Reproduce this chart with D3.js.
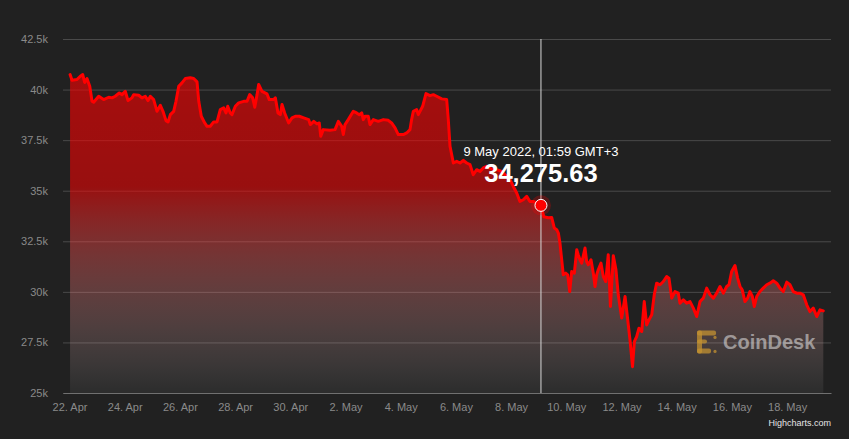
<!DOCTYPE html>
<html><head><meta charset="utf-8">
<script src="https://cdn.jsdelivr.net/npm/d3@7"></script>
<style>
html,body{margin:0;padding:0;background:#212121;}
svg{display:block;font-family:"Liberation Sans",Arial,Helvetica,sans-serif;}
</style></head><body>
<svg id="chart" width="849" height="439"></svg>
<script>
// ---------- DATA ----------
const startDate = "2022-04-22T00:00:00Z"; // chart local time (GMT+3) treated as UTC
const hoursFromStart = [0.5, 2.2, 6.5, 9.4, 11.5, 13.2, 15.2, 17.6, 19.6, 21.0, 25.4, 29.7, 34.1, 37.0, 39.8, 43.3, 45.7, 48.5, 50.9, 54.3,
  55.8, 60.2, 63.0, 65.9, 68.3, 70.3, 73.2, 76.1, 79.0, 81.3, 83.9, 85.7, 87.7, 90.6, 92.6, 95.0, 97.8, 100.7, 105.0, 108.0,
  110.9, 112.4, 114.6, 117.6, 119.6, 122.4, 125.4, 128.3, 131.1, 134.1, 136.1, 137.6, 139.8, 141.3, 144.2, 147.1, 151.5, 154.4, 156.7, 159.3,
  161.1, 163.1, 164.5, 167.4, 171.7, 173.7, 177.6, 179.0, 181.3, 183.3, 184.8, 187.1, 190.6, 193.5, 196.4, 199.8, 203.7, 208.0, 209.4, 212.4,
  215.2, 217.2, 218.5, 220.7, 226.5, 230.9, 233.8, 236.7, 238.1, 239.6, 242.4, 246.8, 249.7, 252.0, 254.1, 255.5, 257.0, 259.8, 261.3, 264.2,
  268.5, 272.9, 277.2, 280.1, 283.1, 285.9, 290.3, 293.2, 296.1, 297.5, 299.0, 301.9, 303.3, 307.1, 310.0, 313.5, 316.4, 319.3, 323.7, 328.0,
  329.4, 330.9, 333.8, 336.7, 339.6, 342.5, 345.4, 348.3, 351.1, 354.1, 357.0, 359.8, 362.8, 367.1, 371.5, 375.8, 380.2, 383.1, 385.9, 388.9,
  391.7, 394.6, 397.6, 400.4, 403.3, 406.8, 410.0, 412.5, 416.3, 419.3, 421.6, 423.7, 425.1, 426.5, 429.4, 431.5, 433.2, 435.0, 436.7, 439.0,
  441.1, 442.4, 443.9, 445.4, 448.3, 449.7, 451.1, 453.5, 455.5, 457.0, 458.4, 459.8, 462.2, 464.2, 466.3, 468.5, 470.4, 472.9, 475.2, 477.2,
  480.2, 481.6, 483.1, 485.1, 487.4, 489.6, 491.2, 493.2, 495.2, 497.6, 499.8, 501.9, 503.9, 506.3, 508.5, 510.6, 513.5, 516.4, 519.3, 521.3,
  523.7, 526.5, 529.4, 530.9, 533.8, 536.7, 539.6, 542.5, 545.4, 548.3, 551.2, 554.1, 557.0, 559.9, 562.8, 565.7, 568.6, 571.5, 573.5, 575.8,
  578.7, 581.0, 583.1, 585.0, 587.4, 589.7, 591.7, 593.8, 595.5, 597.6, 600.4, 603.3, 606.3, 609.1, 612.0, 615.0, 617.8, 620.7, 623.7, 626.5,
  629.4, 632.4, 635.2, 638.1, 641.1, 643.9, 646.8, 649.8, 652.6, 655.5];
const prices = [40740, 40460, 40500, 40660, 40740, 40350, 40545, 40165, 39420, 39370, 39670, 39505, 39620, 39590, 39670, 39835, 39750, 39915, 39455, 39590,
  39750, 39720, 39590, 39670, 39455, 39670, 39505, 38925, 39220, 38925, 38465, 38400, 38760, 38925, 39420, 40165, 40330, 40545, 40580, 40545,
  40380, 39420, 38680, 38350, 38185, 38185, 38400, 38400, 39010, 39095, 38845, 39175, 38845, 38760, 39175, 39340, 39420, 39420, 39750, 39590,
  39125, 39750, 40250, 39915, 39790, 39505, 39505, 39590, 38845, 38760, 39260, 38845, 38350, 38600, 38680, 38680, 38600, 38515, 38270, 38430,
  38300, 38350, 37690, 38020, 37985, 38020, 38430, 38185, 37775, 38270, 38515, 38925, 38845, 38760, 38845, 38515, 38680, 38680, 38270, 38515,
  38430, 38515, 38480, 38350, 38105, 37775, 37775, 37855, 38020, 38515, 38925, 39010, 38760, 39175, 39800, 39700, 39750, 39670, 39540, 39505,
  38515, 37195, 36370, 36450, 36370, 36500, 36370, 36290, 35790, 36040, 35955, 36125, 36205, 36075, 36040, 35955, 35710, 35545, 35210, 34885,
  34470, 34555, 34720, 34470, 34470, 34390, 34275.63, 33710, 33660, 33680, 33155, 33070, 32905, 32410, 30840, 30925, 30840, 30015, 31005, 30925,
  32080, 31835, 31585, 31420, 32165, 31500, 31340, 31585, 30925, 30265, 30840, 31090, 31420, 30760, 30510, 31835, 29275, 31785, 31090, 29855,
  28710, 29210, 29770, 28780, 27625, 26300, 27540, 27790, 28205, 28040, 29520, 28365, 28615, 28865, 29855, 30430, 30350, 30510, 30760, 30680,
  29690, 30015, 29935, 29440, 29605, 29440, 29520, 29195, 28780, 29520, 29690, 30185, 29855, 29690, 29935, 30265, 29935, 30265, 30350, 31005,
  31300, 30680, 30265, 30100, 29520, 29690, 30015, 29770, 29275, 29770, 30015, 30185, 30350, 30430, 30545, 30430, 30185, 30015, 30480, 30350,
  30015, 29935, 29935, 29855, 29360, 29025, 29195, 28780, 29110, 29060];

const yTickValues = [25000, 27500, 30000, 32500, 35000, 37500, 40000, 42500];
const yTickLabels = ["25k", "27.5k", "30k", "32.5k", "35k", "37.5k", "40k", "42.5k"];
const xTickDates = ["2022-04-22", "2022-04-24", "2022-04-26", "2022-04-28", "2022-04-30", "2022-05-02", "2022-05-04",
  "2022-05-06", "2022-05-08", "2022-05-10", "2022-05-12", "2022-05-14", "2022-05-16", "2022-05-18"];
const xTickLabels = ["22. Apr", "24. Apr", "26. Apr", "28. Apr", "30. Apr", "2. May", "4. May",
  "6. May", "8. May", "10. May", "12. May", "14. May", "16. May", "18. May"];
const xDomainHours = [-5.65, 662.2];
const tooltipTime = "2022-05-09T01:59:00Z";
const tooltipPrice = 34275.63;
const tooltipLabel = "9 May 2022, 01:59 GMT+3";
const watermarkText = "CoinDesk";
const creditText = "Highcharts.com";

// ---------- CHART ----------
const W = 849, H = 439;
const plot = {left: 63, right: 831, top: 39, bottom: 393};
const HOUR = 3600000;
const t0 = new Date(startDate).getTime();
const data = hoursFromStart.map((h, i) => ({date: new Date(t0 + h * HOUR), value: prices[i]}));

const svg = d3.select("#chart");
svg.append("rect").attr("width", W).attr("height", H).attr("fill", "#212121");

const x = d3.scaleUtc()
  .domain(xDomainHours.map(h => new Date(t0 + h * HOUR)))
  .range([plot.left, plot.right]);
const y = d3.scaleLinear()
  .domain([yTickValues[0], yTickValues[yTickValues.length - 1]])
  .range([plot.bottom, plot.top]);

const defs = svg.append("defs");
const grad = defs.append("linearGradient").attr("id", "areaGrad")
  .attr("x1", 0).attr("y1", 0).attr("x2", 0).attr("y2", 1);
grad.append("stop").attr("offset", "0%").attr("stop-color", "rgb(255,0,0)").attr("stop-opacity", 0.6);
grad.append("stop").attr("offset", "35%").attr("stop-color", "rgb(255,0,0)").attr("stop-opacity", 0.54);
grad.append("stop").attr("offset", "100%").attr("stop-color", "rgb(255,255,255)").attr("stop-opacity", 0.05);

// grid lines
const yAxis = d3.axisLeft(y).tickValues(yTickValues)
  .tickFormat((d, i) => yTickLabels[i])
  .tickSize(-(plot.right - plot.left)).tickPadding(15);
const gy = svg.append("g").attr("transform", `translate(${plot.left},0)`).call(yAxis);
gy.select(".domain").remove();
gy.selectAll(".tick line").attr("stroke", "#4a4a4a").attr("stroke-width", 1);
gy.selectAll(".tick text").attr("fill", "#8a8a8a").attr("font-size", "11px")
  .attr("font-family", '"Liberation Sans", Arial, sans-serif');

// area + line
const area = d3.area().x(d => x(d.date)).y0(y(yTickValues[0])).y1(d => y(d.value));
const line = d3.line().x(d => x(d.date)).y(d => y(d.value));
svg.append("path").datum(data).attr("d", area).attr("fill", "url(#areaGrad)");
svg.append("path").datum(data).attr("d", line).attr("fill", "none")
  .attr("stroke", "#ff0000").attr("stroke-width", 3).attr("stroke-linejoin", "round").attr("stroke-linecap", "round");

// x axis
const xAxis = d3.axisBottom(x).tickValues(xTickDates.map(s => new Date(s + "T00:00:00Z")))
  .tickFormat((d, i) => xTickLabels[i]).tickSize(0).tickPadding(10);
const gx = svg.append("g").attr("transform", `translate(0,${plot.bottom})`).call(xAxis);
gx.select(".domain").attr("stroke", "#707070");
gx.selectAll(".tick text").attr("fill", "#8a8a8a").attr("font-size", "11px")
  .attr("font-family", '"Liberation Sans", Arial, sans-serif');

// watermark
const wm = svg.append("g").attr("transform", `translate(${x(new Date(t0 + 545.7 * HOUR))},${y(27300)})`);
const gold = "rgba(195,145,50,0.75)";
wm.append("rect").attr("x", 0).attr("y", -16).attr("width", 5).attr("height", 23).attr("rx", 2).attr("fill", gold);
wm.append("rect").attr("x", 0).attr("y", -16).attr("width", 19).attr("height", 5).attr("rx", 2).attr("fill", gold);
wm.append("rect").attr("x", 0).attr("y", 2).attr("width", 14).attr("height", 5).attr("rx", 2).attr("fill", gold);
wm.append("rect").attr("x", 0).attr("y", -7).attr("width", 10).attr("height", 4).attr("rx", 2).attr("fill", gold);
wm.append("circle").attr("cx", 18).attr("cy", -9).attr("r", 1.6).attr("fill", gold);
wm.append("circle").attr("cx", 18).attr("cy", 5).attr("r", 1.6).attr("fill", gold);
wm.append("text").attr("x", 26).attr("y", 3).text(watermarkText)
  .attr("font-size", "20px").attr("font-weight", "bold").attr("fill", "rgba(255,255,255,0.48)");

// crosshair + marker
const tt = new Date(tooltipTime);
const cx = x(tt), cy = y(tooltipPrice);
svg.append("line").attr("x1", cx).attr("x2", cx).attr("y1", plot.top).attr("y2", plot.bottom)
  .attr("stroke", "#d8d8d8").attr("stroke-width", 1);
svg.append("circle").attr("cx", cx).attr("cy", cy).attr("r", 10).attr("fill", "rgba(255,0,0,0.25)");
svg.append("circle").attr("cx", cx).attr("cy", cy).attr("r", 6).attr("fill", "#ff0000")
  .attr("stroke", "#ffffff").attr("stroke-width", 1);

// tooltip text
svg.append("text").attr("x", cx).attr("y", cy - 49).attr("text-anchor", "middle")
  .attr("fill", "#ffffff").attr("font-size", "13px").text(tooltipLabel);
svg.append("text").attr("x", cx).attr("y", cy - 23).attr("text-anchor", "middle")
  .attr("fill", "#ffffff").attr("font-size", "25.5px").attr("font-weight", "bold")
  .text(d3.format(",.2f")(tooltipPrice));

// credit
svg.append("text").attr("x", plot.right).attr("y", 426).attr("text-anchor", "end")
  .attr("fill", "#e6e6e6").attr("font-size", "9px").text(creditText);
</script>
</body></html>
